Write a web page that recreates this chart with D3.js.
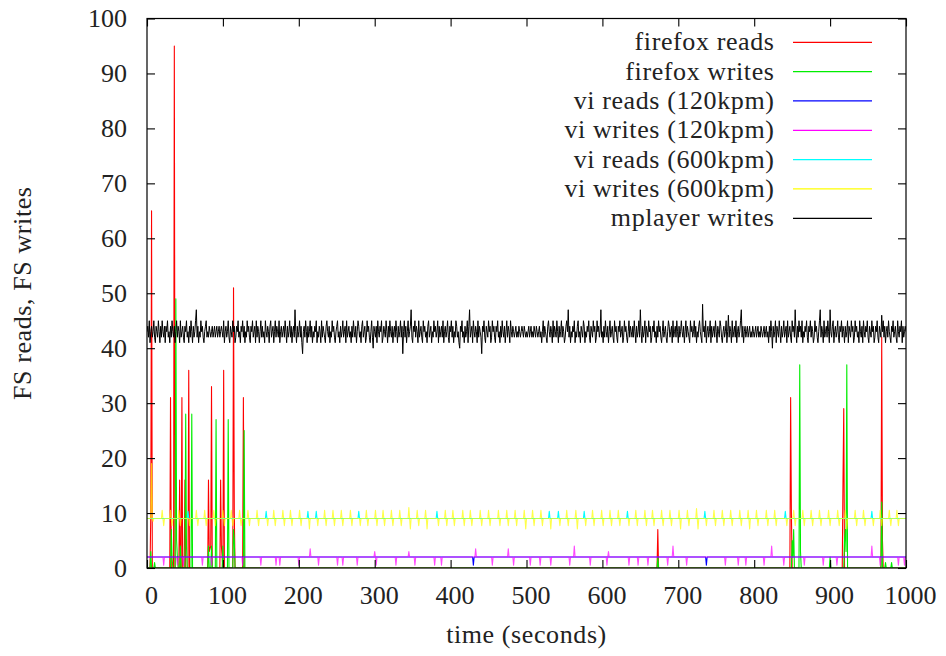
<!DOCTYPE html>
<html>
<head>
<meta charset="utf-8">
<script src="https://cdn.jsdelivr.net/npm/d3@7"></script>
<style>
  body { margin: 0; background: #fff; }
  text { font-family: "Liberation Serif", "Times New Roman", serif; fill: #222; }
</style>
</head>
<body>
<svg id="chart" width="946" height="656"></svg>
<script>
// ---- axis ticks ----
const xTicks = [0, 100, 200, 300, 400, 500, 600, 700, 800, 900, 1000];
const yTicks = [0, 10, 20, 30, 40, 50, 60, 70, 80, 90, 100];

// ---- legend entries, in plotting order ----
const seriesNames = [
  "firefox reads", "firefox writes",
  "vi reads (120kpm)", "vi writes (120kpm)",
  "vi reads (600kpm)", "vi writes (600kpm)",
  "mplayer writes"
];

// ---- firefox: [time, ops] vertices, zero between bursts ----
const firefoxReads = [
  [0,0],[4,0],[5,10],[6,65],[7,0],[30,0],[31,31],[32,0],[35,0],[36,95],[37,0],
  [42,0],[43,16],[44,0],[45,0],[46,31],[47,0],[49,0],[50,16],[51,0],[54,0],[55,36],[56,0],
  [80,0],[81,16],[82,3],[84,4],[85,33],[86,0],[96,0],[97,16],[98,4],[100,0],[101,36],[102,0],
  [113,0],[114,51],[115,10],[116,0],[126,0],[127,31],[128,0],
  [672,0],[673,7],[674,0],[847,0],[848,31],[849,10],[850,0],
  [916,0],[917,16],[918,29],[919,0],[967,0],[968,42],[969,5],[970,0],[1000,0]
];
const firefoxWrites = [
  [0,0],[4,0],[5,3],[6,0],[9,0],[10,1],[11,0],[31,0],[32,7],[33,2],[34,0],
  [37,0],[38,49],[39,5],[40,2],[41,0],[43,0],[44,4],[45,0],[50,0],[51,28],[52,4],[53,0],
  [58,0],[59,28],[60,0],[80,0],[81,4],[82,0],[84,0],[85,4],[86,0],[90,0],[91,27],[92,0],
  [99,0],[100,4],[101,0],[106,0],[107,27],[108,0],[113,0],[114,7],[115,5],[116,0],
  [127,0],[128,25],[129,0],[672,0],[673,2],[674,0],
  [849,0],[850,5],[851,2],[852,7],[853,0],[859,0],[860,37],[861,3],[862,0],
  [899,0],[900,2],[901,0],[918,0],[919,5],[920,7],[921,3],[922,37],[923,0],
  [967,0],[968,12],[969,0],[972,0],[973,1],[974,0],[980,0],[981,1],[982,0],[1000,0]
];

// ---- vi at 120 keystrokes/min: steady level with short excursions ----
const vi120Level = 2;
const viReads120Dips = [430, 737];
const viWrites120Dips = [22,40,48,73,85,126,150,170,175,200,226,251,258,277,302,328,353,379,388,
  455,483,505,518,532,557,584,606,635,647,660,686,711,762,779,789,813,839,866,891,909,966,990,998];
const viWrites120Peaks = [[215,3.5],[300,3],[345,3],[433,3.5],[476,3.5],[563,4],[608,3],[693,4],[823,4],[955,4]];
const vi120DipValue = 0.5;

// ---- vi at 600 keystrokes/min ----
const vi600Level = 9;
const viReads600Peaks = [54,157,212,223,279,382,530,542,576,633,735,841,955];
const viReads600PeakValue = 10.3;
// [time, high, low]; high null where only the low excursion shows
const viWrites600Spikes = [
  [6,19,8.5],[20,10.5,7.7],[31,10.5,7.7],[42,10.5,7.7],[54,null,7.7],[65,10.5,7.7],[76,10.5,7.7],
  [88,10.5,7.7],[100,10.5,7.7],[111,10.5,7.7],[122,10.5,7.7],[133,10.5,7.7],[145,10.5,7.7],
  [157,null,7.7],[167,10.5,7.7],[179,10.5,7.7],[189,10.5,7.7],[201,10.5,7.7],[212,null,7.1],
  [223,null,7.7],[234,10.5,7.7],[245,10.5,7.7],[256,10.5,7.7],[268,10.5,7.7],[279,null,7.7],
  [289,10.5,7.7],[301,10.5,7.7],[311,10.5,7.7],[322,10.5,7.7],[333,10.5,7.7],[345,11,7.1],
  [356,10.5,7.7],[367,10.5,7.1],[382,null,7.7],[393,10.5,7.7],[403,10.5,7.7],[416,10.5,7.7],
  [426,10.5,7.7],[439,10.5,7.7],[450,10.5,7.7],[463,10.5,7.7],[474,10.5,7.7],[485,10.5,7.7],
  [497,10.5,7.1],[508,10.5,7.7],[519,10.5,7.7],[530,null,7.1],[542,null,7.7],[553,10.5,7.7],
  [565,10.5,7.1],[576,null,7.7],[587,10.5,7.7],[599,10.5,7.7],[610,10.5,7.7],[621,10.5,7.7],
  [633,null,7.7],[644,10.5,7.7],[656,10.5,7.7],[666,10.5,7.7],[678,10.5,7.7],[689,10.5,7.7],
  [701,10.5,7.1],[712,10.5,7.7],[724,10.8,7.1],[735,null,7.7],[747,10.5,7.7],[758,10.5,7.7],
  [769,10.5,7.7],[781,10.5,7.7],[792,10.5,7.1],[803,10.5,7.7],[816,10.5,7.7],[827,10.5,7.7],
  [841,null,7.7],[852,10.5,7.7],[864,10.5,7.7],[875,10.5,7.7],[886,10.5,7.7],[898,10.5,7.7],
  [910,10.5,7.7],[920,10.5,7.1],[933,10.5,7.7],[944,10.5,7.7],[955,null,7.7],[966,10.5,7.7],
  [978,10.5,7.7],[988,10.5,7.7]
];

// ---- mplayer: one sample per second from 0 to 1000 s ----
const mplayerStep = 1;
const mplayerWrites = [
  43,44,42,45,41,43,44,42,43,45,42,41,44,43,42,45,43,41,44,42,
  45,43,42,44,41,44,43,45,42,43,41,44,42,45,43,42,44,41,43,45,
  42,44,43,41,45,42,43,44,42,41,44,43,45,42,43,41,44,42,45,43,
  41,44,42,43,45,47,42,44,41,43,42,45,43,44,42,41,43,44,45,42,
  43,42,44,43,42,43,44,42,43,44,42,43,44,42,43,44,42,43,44,43,
  42,45,41,43,44,42,43,45,42,41,44,43,42,45,43,44,41,42,44,43,
  45,42,43,41,44,43,45,42,44,41,43,42,45,43,44,42,41,44,43,45,
  42,43,44,41,45,42,44,43,41,43,45,42,44,42,43,41,45,43,42,44,
  43,41,44,45,42,43,44,41,43,45,42,44,43,42,45,41,43,44,42,43,
  44,42,45,43,41,44,42,43,45,42,44,41,43,44,42,47,43,41,44,42,
  43,45,42,44,41,39,43,44,42,45,43,41,44,42,43,45,42,44,41,43,
  42,44,43,45,41,43,42,44,43,41,45,42,44,43,42,41,44,45,43,42,
  44,41,43,42,45,43,44,42,41,43,44,45,42,43,41,44,42,43,45,42,
  43,44,41,45,42,43,44,42,43,41,44,42,45,43,42,44,41,43,45,44,
  42,43,41,44,45,42,43,44,41,42,45,43,44,42,41,43,45,42,40,44,
  43,42,44,41,45,43,42,44,43,45,41,42,44,43,42,45,43,41,44,42,
  45,43,42,44,41,43,44,42,45,43,41,44,42,43,45,42,44,39,43,45,
  42,44,41,43,45,42,43,44,47,42,41,44,43,45,42,44,43,41,45,42,
  43,44,42,41,45,43,44,42,43,41,44,45,42,43,44,41,43,42,45,43,
  44,42,43,45,41,44,42,43,44,42,45,41,43,44,42,43,45,42,41,44,
  43,45,42,44,41,43,42,45,44,42,43,41,40,44,43,45,42,43,41,44,
  42,43,45,41,44,47,42,43,44,41,45,43,42,44,43,41,45,42,44,43,
  42,39,44,43,45,42,41,44,43,42,45,43,44,41,42,45,43,44,42,41,
  44,43,45,42,43,41,44,42,45,43,42,44,41,43,45,42,44,43,41,45,
  43,42,44,43,42,43,44,42,43,42,44,43,42,43,44,43,42,44,43,42,
  43,42,43,44,42,43,44,42,43,42,44,43,42,44,43,42,43,44,42,43,
  41,43,45,42,44,43,42,41,44,45,43,42,44,43,41,45,42,44,43,42,
  45,43,41,44,42,43,45,42,44,43,41,42,44,45,43,47,42,44,41,43,
  42,44,43,45,41,43,42,44,45,42,43,41,44,43,42,45,44,41,43,42,
  44,43,45,42,41,44,43,42,45,43,44,41,42,45,43,44,42,43,47,42,
  43,41,44,42,45,43,42,44,41,43,45,42,43,44,42,41,45,43,44,42,
  41,44,43,45,42,43,44,41,42,45,43,44,42,41,43,45,42,44,43,42,
  44,42,45,43,41,44,42,43,45,42,47,43,41,44,42,43,45,41,44,43,
  42,45,43,44,41,42,44,43,45,42,43,41,44,42,45,43,44,42,41,43,
  45,42,43,44,42,41,43,45,44,42,43,44,41,45,42,43,44,42,45,43,
  41,44,42,43,45,43,42,44,41,43,45,42,44,43,42,41,45,43,44,42,
  43,45,42,44,41,43,42,44,45,43,42,41,48,43,44,42,45,41,43,44,
  42,43,45,41,44,42,43,44,42,45,43,41,44,43,42,45,44,42,41,43,
  44,42,43,45,41,43,46,42,44,43,41,45,42,43,44,42,45,41,43,44,
  42,43,45,47,42,44,41,43,44,42,43,44,42,43,44,42,43,42,44,43,
  42,43,44,42,43,44,42,43,42,44,43,42,43,44,42,43,44,42,43,41,
  44,42,45,43,40,44,42,43,45,41,44,43,42,45,43,41,44,42,43,45,
  42,43,44,41,45,42,43,44,42,41,45,43,44,42,47,43,41,44,42,45,
  43,44,42,45,41,43,42,44,43,45,42,41,44,43,45,42,44,43,41,42,
  45,43,44,42,41,43,45,47,42,44,43,41,45,42,43,44,42,45,43,41,
  47,43,42,44,45,41,43,44,42,43,45,42,41,44,43,45,42,44,43,41,
  44,42,43,45,41,44,43,42,45,43,44,41,42,45,43,44,42,43,41,45,
  43,42,44,41,45,43,42,44,43,45,42,41,44,43,42,45,43,44,41,42,
  44,43,45,42,41,44,43,42,46,43,45,42,44,41,43,44,42,45,43,42,
  41,44,43,45,42,43,44,42,41,45,43,42,44,43,45,41,44,42,43,44,
  43
];

// ---- build vertex lists for the level-plus-excursion series ----
const tEnd = 1000;
function levelSeries(level, events) {
  const pts = [[0, level]];
  events.slice().sort((a, b) => a[0] - b[0]).forEach(([t, v]) => {
    pts.push([t - 1, level], [t, v], [t + 1, level]);
  });
  pts.push([tEnd, level]);
  return pts.filter(p => p[0] >= 0 && p[0] <= tEnd).sort((a, b) => a[0] - b[0]);
}
function zigzagSeries(level, spikes) {
  const pts = [[0, level]];
  spikes.forEach(([t, hi, lo]) => {
    if (hi !== null) pts.push([t - 1, level], [t, hi], [t + 1, level]);
    else pts.push([t + 1, level]);
    pts.push([t + 2, lo], [t + 3, level]);
  });
  pts.push([tEnd, level]);
  return pts.filter(p => p[0] >= 0 && p[0] <= tEnd);
}

const seriesData = [
  firefoxReads,
  firefoxWrites,
  levelSeries(vi120Level, viReads120Dips.map(t => [t, vi120DipValue])),
  levelSeries(vi120Level, viWrites120Dips.map(t => [t, vi120DipValue]).concat(viWrites120Peaks)),
  levelSeries(vi600Level, viReads600Peaks.map(t => [t, viReads600PeakValue])),
  zigzagSeries(vi600Level, viWrites600Spikes),
  mplayerWrites.map((v, i) => [i * mplayerStep, v])
];

// ---- drawing ----
const colors = ["#ff0000", "#00ee00", "#0000ff", "#ff00ff", "#00ffff", "#ffff00", "#000000"];
const opacities = [1, 1, 1, 0.72, 1, 0.72, 1];

const svg = d3.select("#chart");
const plotLeft = 147, plotRight = 906, plotTop = 18.5, plotBottom = 568;

const x = d3.scaleLinear().domain([0, 1000]).range([plotLeft, plotRight]);
const y = d3.scaleLinear().domain([0, 100]).range([plotBottom, plotTop]);

svg.append("defs").append("clipPath").attr("id", "plotClip")
  .append("rect").attr("x", plotLeft).attr("y", plotTop)
  .attr("width", plotRight - plotLeft).attr("height", plotBottom - plotTop);

const line = d3.line().x(d => x(d[0])).y(d => y(d[1]));

const plot = svg.append("g").attr("clip-path", "url(#plotClip)");
seriesData.forEach((data, i) => {
  plot.append("path")
    .datum(data)
    .attr("d", line)
    .attr("fill", "none")
    .attr("stroke", colors[i])
    .attr("stroke-opacity", opacities[i])
    .attr("stroke-width", i === 6 ? 1 : 1.1)
    .attr("stroke-linejoin", "round");
});

// axes with inward ticks, mirrored on top and right
const fontSize = 26;
const axB = svg.append("g").attr("transform", `translate(0,${plotBottom})`)
  .call(d3.axisBottom(x).tickValues(xTicks).tickFormat(d3.format("d"))
    .tickSizeInner(-8).tickSizeOuter(0).tickPadding(0));
axB.selectAll("text").attr("y", 36).attr("dy", null).attr("dx", 4)
  .style("font-size", fontSize + "px").style("font-family", "'Liberation Serif', serif").attr("fill", "#222");

const axT = svg.append("g").attr("transform", `translate(0,${plotTop})`)
  .call(d3.axisTop(x).tickValues(xTicks).tickFormat("").tickSizeInner(-8).tickSizeOuter(0));

const axL = svg.append("g").attr("transform", `translate(${plotLeft},0)`)
  .call(d3.axisLeft(y).tickValues(yTicks).tickFormat(d3.format("d"))
    .tickSizeInner(-8).tickSizeOuter(0).tickPadding(20));
axL.selectAll("text").attr("dy", "0.32em")
  .style("font-size", fontSize + "px").style("font-family", "'Liberation Serif', serif").attr("fill", "#222");

const axR = svg.append("g").attr("transform", `translate(${plotRight},0)`)
  .call(d3.axisRight(y).tickValues(yTicks).tickFormat("").tickSizeInner(-8).tickSizeOuter(0));

[axB, axT, axL, axR].forEach(g => {
  g.select(".domain").remove();
  g.selectAll(".tick line").attr("stroke", "#000").attr("stroke-width", 1.1);
});

svg.append("rect")
  .attr("x", plotLeft).attr("y", plotTop)
  .attr("width", plotRight - plotLeft).attr("height", plotBottom - plotTop)
  .attr("fill", "none").attr("stroke", "#000").attr("stroke-width", 1.2);

// axis titles
svg.append("text")
  .attr("x", (plotLeft + plotRight) / 2).attr("y", 643)
  .attr("text-anchor", "middle")
  .style("font-size", fontSize + "px").style("letter-spacing", "0.6px")
  .text("time (seconds)");

svg.append("text")
  .attr("transform", `translate(31,${(plotTop + plotBottom) / 2}) rotate(-90)`)
  .attr("text-anchor", "middle")
  .style("font-size", fontSize + "px").style("letter-spacing", "0.6px")
  .text("FS reads, FS writes");

// legend
const legend = svg.append("g");
seriesNames.forEach((name, i) => {
  const ry = 42.3 + i * 29.33;
  legend.append("text")
    .attr("x", 774.5).attr("y", ry + 8)
    .attr("text-anchor", "end")
    .style("font-size", fontSize + "px").style("letter-spacing", "0.6px")
    .text(name);
  legend.append("line")
    .attr("x1", 793).attr("x2", 872)
    .attr("y1", ry).attr("y2", ry)
    .attr("stroke", colors[i]).attr("stroke-width", 1.2);
});
</script>
</body>
</html>
